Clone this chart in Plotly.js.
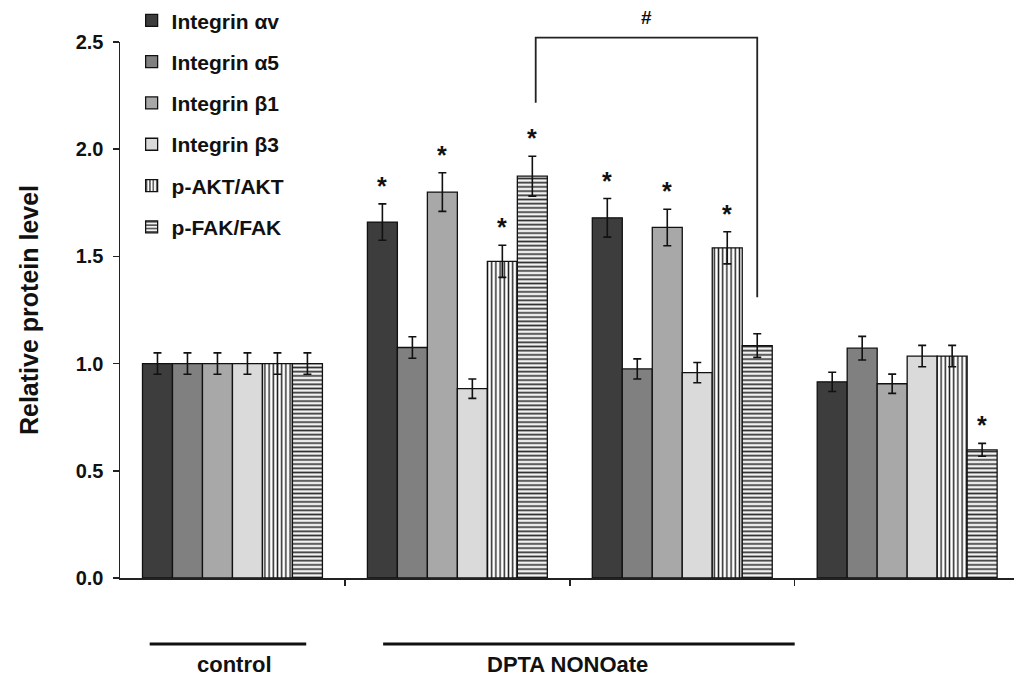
<!DOCTYPE html>
<html>
<head>
<meta charset="utf-8">
<script src="https://cdn.plot.ly/plotly-3.0.1.min.js"></script>
<style>html,body{margin:0;padding:0;background:#fff;}#chart{width:1014px;height:678px;}</style>
</head>
<body>
<div id="chart"></div>
<script>
// ---- data ----
const groupPositions = [0, 1, 2, 3];
const groupLabels = ['control', 'DPTA NONOate'];
const seriesNames = ['Integrin αv', 'Integrin α5', 'Integrin β1', 'Integrin β3', 'p-AKT/AKT', 'p-FAK/FAK'];
const integrinAv    = [1.00, 1.66, 1.68, 0.915];
const integrinAvErr = [0.05, 0.085, 0.09, 0.045];
const integrinA5    = [1.00, 1.075, 0.975, 1.072];
const integrinA5Err = [0.05, 0.05, 0.047, 0.055];
const integrinB1    = [1.00, 1.80, 1.635, 0.906];
const integrinB1Err = [0.05, 0.09, 0.085, 0.045];
const integrinB3    = [1.00, 0.883, 0.958, 1.035];
const integrinB3Err = [0.05, 0.045, 0.047, 0.05];
const pAkt          = [1.00, 1.477, 1.54, 1.035];
const pAktErr       = [0.05, 0.075, 0.075, 0.05];
const pFak          = [1.00, 1.874, 1.084, 0.598];
const pFakErr       = [0.05, 0.093, 0.055, 0.03];
const sigAv  = [false, true, true, false];
const sigA5  = [false, false, false, false];
const sigB1  = [false, true, true, false];
const sigB3  = [false, false, false, false];
const sigAkt = [false, true, true, false];
const sigFak = [false, true, false, true];
const yTickVals = [0, 0.5, 1.0, 1.5, 2.0, 2.5];
const yTickText = ['0.0', '0.5', '1.0', '1.5', '2.0', '2.5'];

// ---- styling ----
const FONT = 'Liberation Sans, Arial, sans-serif';
const values = [integrinAv, integrinA5, integrinB1, integrinB3, pAkt, pFak];
const errors = [integrinAvErr, integrinA5Err, integrinB1Err, integrinB3Err, pAktErr, pFakErr];
const sigs = [sigAv, sigA5, sigB1, sigB3, sigAkt, sigFak];
const fills = ['#3d3d3d', '#808080', '#a8a8a8', '#dadada', '#ffffff', '#ffffff'];
const patterns = [null, null, null, null,
  {shape: '|', fgcolor: '#222', bgcolor: '#ffffff', size: 4.2, solidity: 0.35},
  {shape: '-', fgcolor: '#333', bgcolor: '#f2f2f2', size: 4.2, solidity: 0.4}];

const nS = seriesNames.length;
const bargap = 0.2;
const barW = (1 - bargap) / nS;
function barX(g, s) { return groupPositions[g] - (1 - bargap) / 2 + barW * (s + 0.5); }

const xRange = [-0.5, 3.475];
const yRange = [0, 2.5];
function px(x) { return (x - xRange[0]) / (xRange[1] - xRange[0]); }
function py(y) { return (y - yRange[0]) / (yRange[1] - yRange[0]); }

const traces = seriesNames.map((name, s) => {
  const m = {color: fills[s], line: {color: '#111', width: 1.3}};
  if (patterns[s]) m.pattern = patterns[s];
  return {
    type: 'bar', name: name, x: groupPositions, y: values[s],
    legendgroup: 'g' + s,
    marker: m,
    error_y: {type: 'data', array: errors[s], visible: true, color: '#111', thickness: 1.6, width: 4},
  };
});

const annotations = [];
sigs.forEach((sg, s) => sg.forEach((on, g) => {
  if (!on) return;
  annotations.push({x: barX(g, s), y: values[s][g] + errors[s][g], xref: 'x', yref: 'y',
    text: '*', showarrow: false, yanchor: 'bottom', yshift: 2,
    font: {family: FONT, size: 25, color: '#111', weight: 'bold'}});
}));

// bracket between DPTA group 1 p-FAK and DPTA group 2 p-FAK
const bLeftX = px(barX(1, 5) + 0.015), bRightX = px(barX(2, 5));
const bTop = py(2.52);
const bLeftBottom = py(pFak[1] + pFakErr[1] + 0.25);
const bRightBottom = py(pFak[2] + pFakErr[2] + 0.17);
const shapes = [
  {type: 'path', xref: 'paper', yref: 'paper',
   path: `M ${bLeftX},${bLeftBottom} L ${bLeftX},${bTop} L ${bRightX},${bTop} L ${bRightX},${bRightBottom}`,
   line: {color: '#222', width: 1.8}},
];
annotations.push({x: (bLeftX + bRightX) / 2, y: bTop, xref: 'paper', yref: 'paper', text: '#',
  showarrow: false, yanchor: 'bottom', yshift: 8,
  font: {family: FONT, size: 19, color: '#111', weight: 'bold'}});

// group labels below axis
const ctrlL = px(-0.368), ctrlR = px(0.328);
const dptaL = px(0.67), dptaR = px(2.5);
const lineY = -0.123, textY = -0.161;
shapes.push({type: 'line', xref: 'paper', yref: 'paper', x0: ctrlL, x1: ctrlR, y0: lineY, y1: lineY, line: {color: '#111', width: 3}});
shapes.push({type: 'line', xref: 'paper', yref: 'paper', x0: dptaL, x1: dptaR, y0: lineY, y1: lineY, line: {color: '#111', width: 3}});
annotations.push({x: px(0.01), y: textY, xref: 'paper', yref: 'paper', text: groupLabels[0], showarrow: false,
  xanchor: 'center', yanchor: 'middle',
  font: {family: FONT, size: 22, color: '#111', weight: 'bold'}});
annotations.push({x: px(1.49), y: textY, xref: 'paper', yref: 'paper', text: groupLabels[1], showarrow: false,
  xanchor: 'center', yanchor: 'middle',
  font: {family: FONT, size: 22, color: '#111', weight: 'bold'}});

const layout = {
  width: 1014, height: 678,
  margin: {l: 120, r: 0, t: 42, b: 100},
  paper_bgcolor: '#fff', plot_bgcolor: '#fff',
  barmode: 'group', bargap: bargap, bargroupgap: 0,
  showlegend: true,
  legend: {x: 0.013, y: 1.078, xanchor: 'left', yanchor: 'top', traceorder: 'grouped', tracegroupgap: 11,
    bgcolor: 'rgba(0,0,0,0)', font: {family: FONT, size: 21, color: '#111', weight: 'bold'}},
  xaxis: {range: xRange, showgrid: false, zeroline: false, showline: true, linecolor: '#222', linewidth: 1.5,
    tickmode: 'array', tickvals: [0.5, 1.5, 2.5], ticktext: ['', '', ''], ticks: 'outside', ticklen: 6, tickwidth: 1.5, tickcolor: '#222',
    fixedrange: true},
  yaxis: {range: yRange, showgrid: false, zeroline: false, showline: true, linecolor: '#222', linewidth: 1.5,
    tickmode: 'array', tickvals: yTickVals, ticktext: yTickText, ticks: 'outside', ticklen: 6, tickwidth: 1.5, tickcolor: '#222',
    ticklabelstandoff: 5,
    tickfont: {family: FONT, size: 20, color: '#111', weight: 'bold'},
    title: {text: 'Relative protein level', standoff: 30, font: {family: FONT, size: 25, color: '#111', weight: 'bold'}},
    fixedrange: true},
  shapes: shapes,
  annotations: annotations,
  font: {family: FONT},
};

Plotly.newPlot('chart', traces, layout, {displayModeBar: false, staticPlot: true});
</script>
</body>
</html>
